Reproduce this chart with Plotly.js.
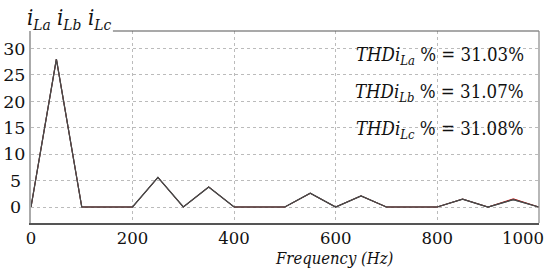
<!DOCTYPE html>
<html>
<head>
<meta charset="utf-8">
<script src="https://cdn.plot.ly/plotly-3.0.1.min.js"></script>
<style>html,body{margin:0;padding:0;background:#fff;}#chart{width:546px;height:270px;}</style>
</head>
<body>
<div id="chart"></div>
<script>
// Harmonic spectrum (Hz vs magnitude)
const freq = [0, 50, 100, 150, 200, 250, 300, 350, 400, 450, 500, 550, 600, 650, 700, 750, 800, 850, 900, 950, 1000];
const iLa  = [0, 28, 0, 0, 0, 5.6, 0, 3.8, 0, 0, 0, 2.6, 0, 2.1, 0, 0, 0, 1.5, 0, 1.4, 0];
const iLb  = [0, 28, 0, 0, 0, 5.6, 0, 3.8, 0, 0, 0, 2.6, 0, 2.1, 0, 0, 0, 1.5, 0, 1.55, 0];
const iLc  = [0, 28, 0, 0, 0, 5.6, 0, 3.8, 0, 0, 0, 2.6, 0, 2.1, 0, 0, 0, 1.5, 0, 1.4, 0];
const xTicks = [0, 200, 400, 600, 800, 1000];
const xTickText = ['0', '200', '400', '600', '800', '1000\u2007\u2007\u2007'];
const yTicks = [0, 5, 10, 15, 20, 25, 30];
const yTickText = ['0\u2005', '5\u2005', '10', '15', '20', '25', '30'];
const thdLabels = ['La', 'Lb', 'Lc'];
const thdValues = ['31.03', '31.07', '31.08'];

const serif = 'DejaVu Serif Condensed';
const tickSerif = 'DejaVu Serif';

const traces = [
  {x: freq, y: iLb, mode: 'lines', line: {color: '#c00000', width: 1}, name: 'iLb', hoverinfo: 'skip'},
  {x: freq, y: iLa, mode: 'lines', line: {color: '#4a4a4a', width: 1.2}, name: 'iLa', hoverinfo: 'skip'},
  {x: freq, y: iLc, mode: 'lines', line: {color: '#4a4a4a', width: 1.2}, name: 'iLc', hoverinfo: 'skip'},
];

const thdY = [(223 - 56) / 192, (223 - 93) / 192, (223 - 130) / 192];
const annotations = [];
thdLabels.forEach((lab, i) => {
  annotations.push({
    xref: 'paper', yref: 'paper', x: (526 - 31) / 508.5, y: thdY[i], xanchor: 'right', yanchor: 'middle',
    text: '<i>THDi</i><sub><i>' + lab + '</i></sub> % = ' + thdValues[i] + '%',
    showarrow: false, font: {family: serif, size: 18.5, color: '#111'}
  });
});
const legX = [25, 55, 86];
thdLabels.forEach((lab, i) => {
  annotations.push({
    xref: 'paper', yref: 'paper', x: (legX[i] - 31) / 508.5, y: (223 - 3) / 192, xanchor: 'left', yanchor: 'top',
    text: '<i>i</i><sub><i>' + lab + '</i></sub>',
    showarrow: false, font: {family: serif, size: 22, color: '#111'}
  });
});
annotations.push({
  xref: 'paper', yref: 'paper', x: (335 - 31) / 508.5, y: -(247 - 223) / 192, xanchor: 'center', yanchor: 'top',
  text: '<i>Frequency (Hz)</i>', showarrow: false, font: {family: serif, size: 16.5, color: '#111'}
});

const layout = {
  width: 546, height: 270,
  margin: {l: 31, r: 7, t: 31, b: 47},
  paper_bgcolor: '#fff', plot_bgcolor: '#fff',
  showlegend: false,
  xaxis: {
    range: [0, 1000.5], tickvals: xTicks, ticktext: xTickText, ticks: '', showgrid: true,
    ticklabeloverflow: 'allow',
    gridcolor: '#bbbbbb', griddash: 'dot', gridwidth: 1,
    zeroline: false, showline: true, linecolor: '#555', linewidth: 1.5,
    tickfont: {family: tickSerif, size: 16.5, color: '#111'}
  },
  yaxis: {
    range: [-3.03, 33.33], tickvals: yTicks, ticktext: yTickText, ticks: '', showgrid: true,
    gridcolor: '#bbbbbb', griddash: 'dot', gridwidth: 1,
    zeroline: false, showline: true, linecolor: '#aaa', linewidth: 2,
    tickfont: {family: tickSerif, size: 17.5, color: '#111'}
  },
  shapes: [
    {type: 'line', xref: 'paper', yref: 'paper', x0: (113 - 31) / 508.5, x1: 1, y0: 1, y1: 1, line: {color: '#555', width: 1.2}},
    {type: 'line', xref: 'paper', yref: 'paper', x0: 1, x1: 1, y0: 0, y1: 1, line: {color: '#888', width: 1.2}}
  ],
  annotations: annotations
};

Plotly.newPlot('chart', traces, layout, {displayModeBar: false, staticPlot: true});
</script>
</body>
</html>
